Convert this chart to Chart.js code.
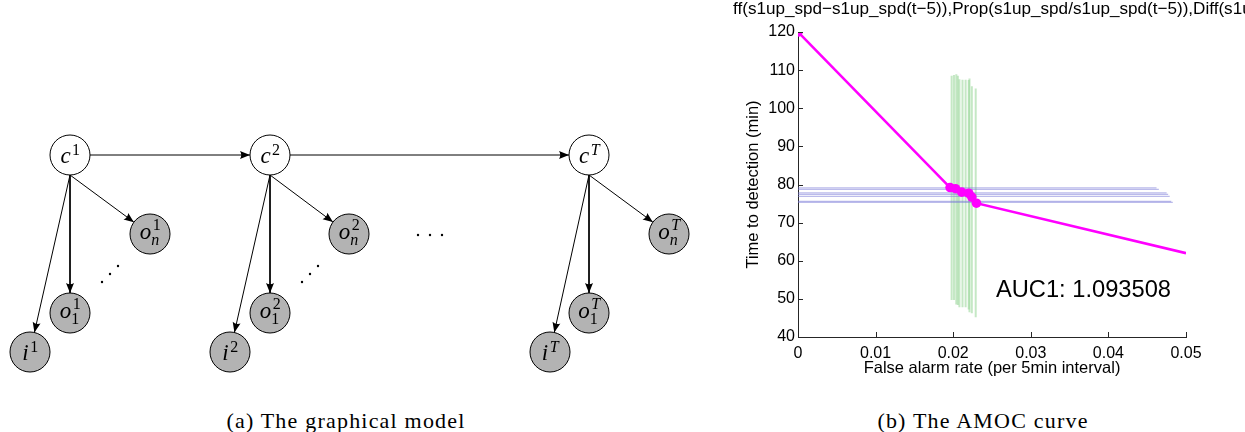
<!DOCTYPE html>
<html><head><meta charset="utf-8">
<script src="https://cdn.jsdelivr.net/npm/chart.js@4.4.1/dist/chart.umd.min.js"></script>
<style>
body{margin:0;background:#fff;}
#wrap{position:relative;width:1245px;height:432px;overflow:hidden;background:#fff}
canvas{position:absolute;top:0}
#gm{left:0}
#amoc{left:730px}
.cap{position:absolute;top:408px;font-family:'Liberation Serif',serif;font-size:22px;letter-spacing:1.2px;white-space:nowrap;transform:translateX(-50%);color:#000}
#title{position:absolute;left:730px;top:-1px;width:515px;overflow:hidden;white-space:nowrap;font-family:'Liberation Sans',Arial,sans-serif;font-size:17.1px;color:#000}
#title span{position:relative;left:3px}
</style></head>
<body>
<div id="wrap">
<canvas id="gm" width="730" height="400"></canvas>
<canvas id="amoc" width="515" height="400"></canvas>
<div id="title"><span>ff(s1up_spd−s1up_spd(t−5)),Prop(s1up_spd/s1up_spd(t−5)),Diff(s1up_spd</span></div>
<div class="cap" style="left:346px">(a) The graphical model</div>
<div class="cap" style="left:983px">(b) The AMOC curve</div>
</div>
<script>
// ---------- AMOC curve data ----------
const amocFAR = [0, 0.0196, 0.0203, 0.0211, 0.0220, 0.0224, 0.0230, 0.05];
const amocTTD = [120, 79.2, 78.9, 78.0, 77.7, 76.7, 75.1, 62];
const amocMarker = [true, true, true, true, true, true, true, false];
const blueTTD = [79.1, 78.7, 77.8, 77.4, 76.9, 75.6, 75.3];
const blueFAREnd = [0.0462, 0.0465, 0.0475, 0.0477, 0.0479, 0.0481, 0.0483];
const greenFAR = [0.0198, 0.0201, 0.0204, 0.0206, 0.0208, 0.0212, 0.0216, 0.0220, 0.0221, 0.0224, 0.0229];
const greenTop = [108.5, 108.7, 108.9, 108.5, 107.6, 107.5, 107.5, 107.4, 107.8, 105.8, 105.2];
const greenBottom = [49.7, 49.7, 48.5, 48.4, 47.8, 47.8, 47.8, 47.2, 46.5, 46.2, 45.2];
const xTicks = [0, 0.01, 0.02, 0.03, 0.04, 0.05];
const yTicks = [40, 50, 60, 70, 80, 90, 100, 110, 120];
const aucLabel = 'AUC1: 1.093508';
const aucPos = {x: 0.0255, y: 50.5};
const xTitle = 'False alarm rate (per 5min interval)';
const yTitle = 'Time to detection (min)';

// ---------- graphical model data ----------
const nodeX = [70, 270, 589, 150, 349, 669, 70, 270, 589, 30, 230, 550];
const nodeY = [155, 155, 155, 234, 234, 234, 313, 313, 313, 352, 352, 352];
const nodeBase = ['c','c','c','o','o','o','o','o','o','i','i','i'];
const nodeSup = ['1','2','T','1','2','T','1','2','T','1','2','T'];
const nodeSub = ['','','','n','n','n','1','1','1','','',''];
const nodeObserved = [false,false,false,true,true,true,true,true,true,true,true,true];
const edgeFrom = [0, 1, 0, 0, 0, 1, 1, 1, 2, 2, 2];
const edgeTo   = [1, 2, 3, 6, 9, 4, 7, 10, 5, 8, 11];
const dotsX = [102, 110, 118, 302, 310, 318, 418, 430, 442];
const dotsY = [282, 274, 266, 282, 274, 266, 235, 235, 235];
const nodeR = 20;

Chart.defaults.font.family = "'Liberation Sans', Arial, sans-serif";
Chart.defaults.color = '#000';

// ---------- AMOC chart ----------
const amocDatasets = [];
amocDatasets.push({
  label: 'AMOC', data: amocFAR.map((x, i) => ({x, y: amocTTD[i]})),
  showLine: true, borderColor: '#ff00ff', borderWidth: 2.6,
  pointRadius: amocMarker.map(m => m ? 4.8 : 0), pointBackgroundColor: '#ff00ff',
  pointBorderWidth: 0, order: 0
});
blueTTD.forEach((y, i) => amocDatasets.push({
  data: [{x: 0, y}, {x: blueFAREnd[i], y}], showLine: true,
  borderColor: 'rgba(120,120,215,0.5)', borderWidth: 1.3, pointRadius: 0, order: 1
}));
greenFAR.forEach((x, i) => amocDatasets.push({
  data: [{x, y: greenTop[i]}, {x, y: greenBottom[i]}], showLine: true,
  borderColor: 'rgba(140,210,140,0.5)', borderWidth: 2, pointRadius: 0, order: 2
}));

const amocDecor = {
  id: 'amocDecor',
  afterDraw(chart) {
    const {ctx, scales: {x, y}} = chart;
    ctx.save();
    ctx.strokeStyle = '#262626'; ctx.lineWidth = 1;
    xTicks.forEach(v => {
      const px = Math.round(x.getPixelForValue(v)) + 0.5;
      ctx.beginPath(); ctx.moveTo(px, y.bottom); ctx.lineTo(px, y.bottom - 5); ctx.stroke();
    });
    yTicks.forEach(v => {
      const py = Math.round(y.getPixelForValue(v)) + 0.5;
      ctx.beginPath(); ctx.moveTo(x.left, py); ctx.lineTo(x.left + 5, py); ctx.stroke();
    });
    ctx.fillStyle = '#000';
    ctx.font = "23.7px 'Liberation Sans', Arial, sans-serif";
    ctx.textAlign = 'left'; ctx.textBaseline = 'alphabetic';
    ctx.fillText(aucLabel, x.getPixelForValue(aucPos.x), y.getPixelForValue(aucPos.y));
    ctx.restore();
  }
};

new Chart(document.getElementById('amoc'), {
  type: 'scatter',
  data: {datasets: amocDatasets},
  options: {
    responsive: false, animation: false,
    layout: {padding: {left: 0, top: 32, right: 59, bottom: 0}, autoPadding: false},
    plugins: {legend: {display: false}, tooltip: {enabled: false}},
    scales: {
      x: {
        type: 'linear', min: 0, max: 0.05,
        afterBuildTicks: s => { s.ticks = xTicks.map(v => ({value: v})); },
        ticks: {font: {size: 16}, padding: 7, maxRotation: 0, autoSkip: false,
          callback: v => v === 0 ? '0' : String(+v.toFixed(2))},
        grid: {display: false, drawTicks: false},
        border: {display: true, color: '#262626', width: 1},
        title: {display: true, text: xTitle, font: {size: 16.5}, padding: {top: 0, bottom: 22}},
        afterFit: s => { s.height = 63; }
      },
      y: {
        type: 'linear', min: 40, max: 120,
        afterBuildTicks: s => { s.ticks = yTicks.map(v => ({value: v})); },
        ticks: {font: {size: 16}, padding: 3},
        grid: {display: false, drawTicks: false},
        border: {display: true, color: '#262626', width: 1},
        title: {display: true, text: yTitle, font: {size: 16.5}, padding: {top: 14, bottom: 0}},
        afterFit: s => { s.width = 68; }
      }
    }
  },
  plugins: [amocDecor]
});

// ---------- graphical model chart ----------
const gmDatasets = [];
edgeFrom.forEach((f, k) => {
  const t = edgeTo[k];
  const horiz = nodeY[f] === nodeY[t];
  const sx = horiz ? nodeX[f] + nodeR : nodeX[f];
  const sy = horiz ? nodeY[f] : nodeY[f] + nodeR;
  const dx = nodeX[t] - sx, dy = nodeY[t] - sy, L = Math.hypot(dx, dy);
  gmDatasets.push({
    isEdge: true,
    data: [{x: sx, y: sy}, {x: nodeX[t] - dx / L * nodeR, y: nodeY[t] - dy / L * nodeR}],
    showLine: true, borderColor: '#000', borderWidth: 1, pointRadius: 0, order: 2
  });
});
gmDatasets.push({
  isNodes: true,
  data: nodeX.map((x, i) => ({x, y: nodeY[i]})),
  pointRadius: nodeR, pointBackgroundColor: nodeObserved.map(o => o ? '#b3b3b3' : '#ffffff'),
  pointBorderColor: '#000', pointBorderWidth: 1, order: 0
});
gmDatasets.push({
  data: dotsX.map((x, i) => ({x, y: dotsY[i]})),
  pointRadius: 1.2, pointBackgroundColor: '#000', pointBorderWidth: 0, order: 1
});

function drawNodeLabel(ctx, cx, cy, base, sup, sub) {
  const fam = "'Liberation Serif', 'DejaVu Serif', serif";
  const baseFont = 'italic 23px ' + fam;
  const smallFont = s => (/\d/.test(s) ? '' : 'italic ') + '16px ' + fam;
  ctx.font = baseFont; const wb = ctx.measureText(base).width;
  ctx.font = smallFont(sup); const ws = ctx.measureText(sup).width;
  let wsub = 0;
  if (sub) { ctx.font = smallFont(sub); wsub = ctx.measureText(sub).width; }
  const total = wb + 1 + Math.max(ws, wsub);
  const x0 = cx - total / 2;
  const by = sub ? cy + 5 : cy + 8;
  ctx.textAlign = 'left'; ctx.textBaseline = 'alphabetic'; ctx.fillStyle = '#000';
  ctx.font = baseFont; ctx.fillText(base, x0, by);
  ctx.font = smallFont(sup); ctx.fillText(sup, x0 + wb + 1.5, by - (sub ? 9 : 8));
  if (sub) { ctx.font = smallFont(sub); ctx.fillText(sub, x0 + wb, by + 6); }
}

const gmDecor = {
  id: 'gmDecor',
  afterDatasetsDraw(chart) {
    const {ctx} = chart;
    ctx.save();
    chart.data.datasets.forEach((ds, di) => {
      const meta = chart.getDatasetMeta(di);
      if (ds.isEdge) {
        const p0 = meta.data[0], p1 = meta.data[1];
        const dx = p1.x - p0.x, dy = p1.y - p0.y, L = Math.hypot(dx, dy);
        const ux = dx / L, uy = dy / L, len = 10, hw = 4;
        const bx = p1.x - ux * len, by = p1.y - uy * len;
        ctx.fillStyle = '#000';
        ctx.beginPath();
        ctx.moveTo(p1.x, p1.y);
        ctx.lineTo(bx - uy * hw, by + ux * hw);
        ctx.quadraticCurveTo(p1.x - ux * len * 0.75, p1.y - uy * len * 0.75, bx + uy * hw, by - ux * hw);
        ctx.closePath(); ctx.fill();
      }
      if (ds.isNodes) {
        meta.data.forEach((pt, i) => drawNodeLabel(ctx, pt.x, pt.y, nodeBase[i], nodeSup[i], nodeSub[i]));
      }
    });
    ctx.restore();
  }
};

new Chart(document.getElementById('gm'), {
  type: 'scatter',
  data: {datasets: gmDatasets},
  options: {
    responsive: false, animation: false,
    layout: {padding: 0, autoPadding: false},
    plugins: {legend: {display: false}, tooltip: {enabled: false}},
    scales: {
      x: {type: 'linear', min: 0, max: 730, display: false},
      y: {type: 'linear', min: 0, max: 400, reverse: true, display: false}
    }
  },
  plugins: [gmDecor]
});
</script>
</body></html>
